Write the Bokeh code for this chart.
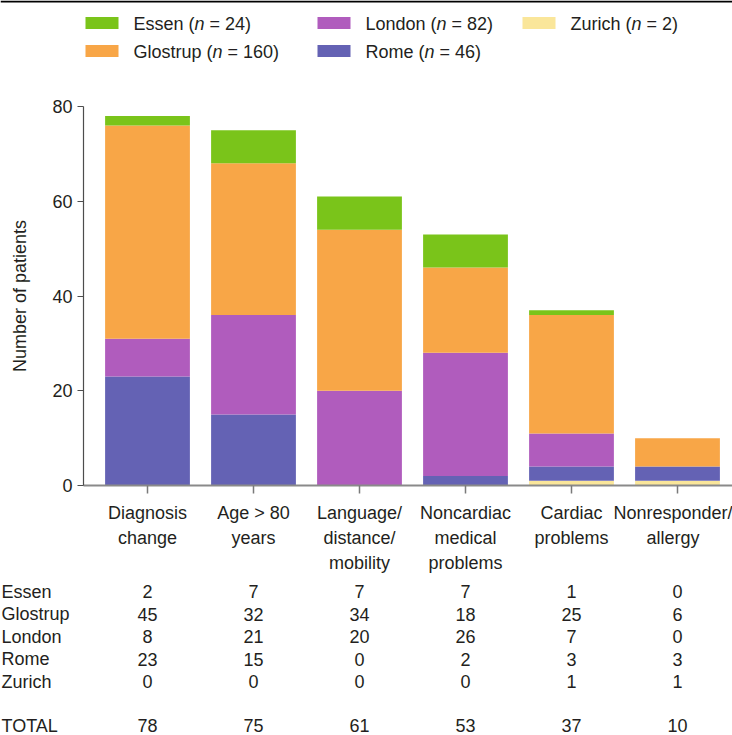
from bokeh.plotting import figure
from bokeh.layouts import column
from bokeh.models import Range1d, FixedTicker, ColumnDataSource
from bokeh.core.properties import value
from bokeh.embed import file_html
from bokeh.resources import INLINE

# ---------------- data ----------------
categories = ["Diagnosis\nchange", "Age > 80\nyears", "Language/\ndistance/\nmobility",
              "Noncardiac\nmedical\nproblems", "Cardiac\nproblems", "Nonresponder/\nallergy"]
sites = ["Essen", "Glostrup", "London", "Rome", "Zurich"]
essen = [2, 7, 7, 7, 1, 0]
glostrup = [45, 32, 34, 18, 25, 6]
london = [8, 21, 20, 26, 7, 0]
rome = [23, 15, 0, 2, 3, 3]
zurich = [0, 0, 0, 0, 1, 1]
y_ticks = [0, 20, 40, 60, 80]

site_values = {"Essen": essen, "Glostrup": glostrup, "London": london, "Rome": rome, "Zurich": zurich}
site_colors = {"Essen": "#7AC41A", "Glostrup": "#F8A647", "London": "#B05CBD",
               "Rome": "#6462B4", "Zurich": "#FAE69A"}
totals = [sum(v) for v in zip(essen, glostrup, london, rome, zurich)]
site_n = {s: sum(site_values[s]) for s in sites}

FONT = "Liberation Sans"
TXT = "#231F20"
FS = "18px"
W = 732


def bare(fig):
    fig.grid.visible = False
    fig.outline_line_color = None
    return fig


# ---------------- legend figure ----------------
LH = 90
leg = bare(figure(width=W, height=LH, x_range=Range1d(0, W), y_range=Range1d(LH, 0),
                  output_backend="svg", toolbar_location=None, min_border=0,
                  x_axis_location=None, y_axis_location=None, frame_align=False))
leg.segment(x0=[0], y0=[1], x1=[W], y1=[1], line_color="#000000", line_width=2)

# Arial/Liberation Sans advance widths (per 1000 em) for placing the mixed-style label pieces
aw = {" ": 278, "(": 333, ")": 333, "=": 584, "E": 667, "s": 500, "e": 556, "n": 556, "G": 778,
      "l": 222, "o": 556, "t": 278, "r": 333, "u": 556, "p": 556, "L": 556, "d": 556, "R": 722,
      "m": 833, "Z": 611, "i": 222, "c": 500, "h": 556}
for ch in "0123456789":
    aw[ch] = 556


def tw(s, size=18.0):
    return sum(aw.get(c, 556) for c in s) * size / 1000.0


legend_slots = {"Essen": (85, 23), "Glostrup": (85, 51), "London": (317, 23),
                "Rome": (317, 51), "Zurich": (522, 23)}
for s in sites:
    sx, sy = legend_slots[s]
    leg.rect(x=[sx + 16.5], y=[sy - 0.5], width=[33], height=[12],
             fill_color=site_colors[s], line_color=None)
    tx = sx + 48
    pre = s + " ("
    post = "= %d)" % site_n[s]
    leg.text(x=[tx], y=[sy], text=[pre], text_font=value(FONT), text_font_size=FS,
             text_color=TXT, text_align="left", text_baseline="middle")
    leg.text(x=[tx + tw(pre)], y=[sy], text=["n"], text_font=value(FONT), text_font_size=FS,
             text_font_style="italic", text_color=TXT, text_align="left", text_baseline="middle")
    leg.text(x=[tx + tw(pre) + tw("n") + tw(" ")], y=[sy], text=[post], text_font=value(FONT),
             text_font_size=FS, text_color=TXT, text_align="left", text_baseline="middle")

# ---------------- bar figure ----------------
xs = list(range(len(categories)))
src = ColumnDataSource(data=dict(x=xs, Essen=essen, Glostrup=glostrup, London=london,
                                 Rome=rome, Zurich=zurich))

p = bare(figure(width=W, height=490, x_range=Range1d(-0.6038, 5.5189), y_range=Range1d(0, 80),
                output_backend="svg", toolbar_location=None, frame_align=False,
                min_border_left=83, min_border_right=0, min_border_top=16, min_border_bottom=95))

stack_order = ["Zurich", "Rome", "London", "Glostrup", "Essen"]
p.vbar_stack(stackers=stack_order, x="x", width=0.8, source=src,
             fill_color=[site_colors[s] for s in stack_order], line_color=None)

yax = p.yaxis[0]
yax.ticker = FixedTicker(ticks=y_ticks)
yax.minor_tick_line_color = None
yax.major_tick_in = 0
yax.major_tick_out = 6
yax.axis_line_color = "#4D4D4D"
yax.axis_line_width = 1.2
yax.major_tick_line_color = "#4D4D4D"
yax.major_tick_line_width = 1.2
yax.major_label_text_font = FONT
yax.major_label_text_font_size = FS
yax.major_label_text_color = TXT
yax.major_label_standoff = 5
yax.axis_label = "Number of patients"
yax.axis_label_text_font = FONT
yax.axis_label_text_font_size = FS
yax.axis_label_text_font_style = "normal"
yax.axis_label_text_color = TXT
yax.axis_label_standoff = 19

xax = p.xaxis[0]
xax.ticker = FixedTicker(ticks=xs)
xax.major_label_overrides = {i: c for i, c in zip(xs, categories)}
xax.minor_tick_line_color = None
xax.major_tick_in = 0
xax.major_tick_out = 8
xax.axis_line_color = "#8A8A8A"
xax.axis_line_width = 2
xax.major_tick_line_color = "#7A7A7A"
xax.major_tick_line_width = 1.5
xax.major_label_text_font = FONT
xax.major_label_text_font_size = FS
xax.major_label_text_color = TXT
xax.major_label_text_line_height = 1.26
xax.major_label_standoff = 9

# ---------------- table figure ----------------
TH = 155
tbl = bare(figure(width=W, height=TH, x_range=Range1d(-1.3868, 5.5189),
                  y_range=Range1d(6.3778, -0.4889),
                  output_backend="svg", toolbar_location=None, min_border=0,
                  x_axis_location=None, y_axis_location=None, frame_align=False))

row_labels = sites + ["TOTAL"]
row_pos = [0, 1, 2, 3, 4, 5.95]
row_values = [site_values[s] for s in sites] + [totals]
tx_, ty_, tt_ = [], [], []
for rp, vals in zip(row_pos, row_values):
    for i, v in enumerate(vals):
        tx_.append(xs[i])
        ty_.append(rp)
        tt_.append(str(v))
tbl.text(x=tx_, y=ty_, text=tt_, text_font=value(FONT), text_font_size=FS, text_color=TXT,
         text_align="center", text_baseline="middle")
tbl.text(x=[-1.377] * len(row_labels), y=row_pos, text=row_labels, text_font=value(FONT),
         text_font_size=FS, text_color=TXT, text_align="left", text_baseline="middle")

layout = column(leg, p, tbl, spacing=0)
open("out.html", "w").write(file_html(layout, INLINE))
